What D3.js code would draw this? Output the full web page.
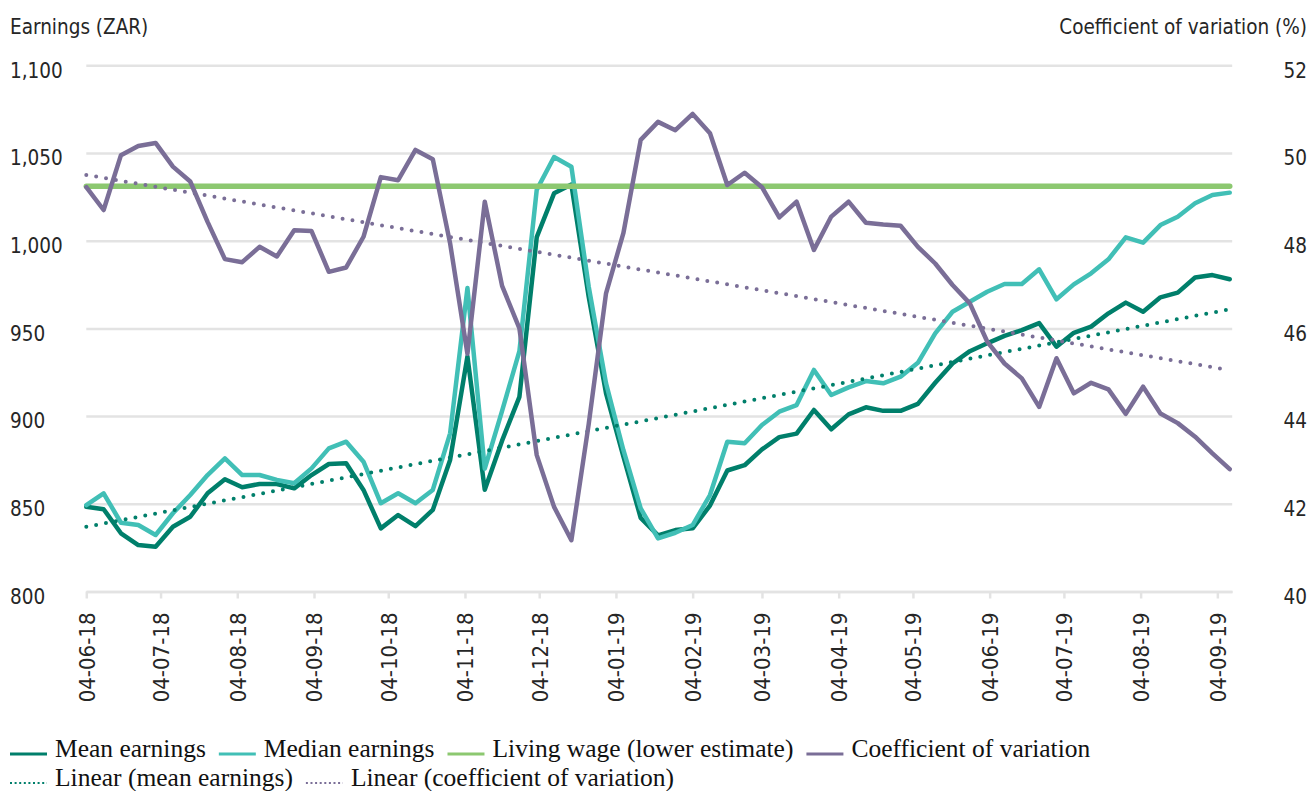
<!DOCTYPE html>
<html>
<head>
<meta charset="utf-8">
<script src="https://cdn.jsdelivr.net/npm/d3@7"></script>
<style>
  body { margin: 0; background: #fff; }
  svg { display: block; }
  .axis-text { font-family: "DejaVu Sans Condensed", "Liberation Sans Narrow", sans-serif; fill: #262626; }
  .legend text { font-family: "Liberation Serif", "DejaVu Serif", serif; font-size: 25.5px; fill: #111; }
</style>
</head>
<body>
<div id="chart"></div>
<script>
// weekly observation dates
const dates = [
  "2018-06-04","2018-06-11","2018-06-18","2018-06-25","2018-07-02","2018-07-09","2018-07-16","2018-07-23","2018-07-30",
  "2018-08-06","2018-08-13","2018-08-20","2018-08-27","2018-09-03","2018-09-10","2018-09-17","2018-09-24",
  "2018-10-01","2018-10-08","2018-10-15","2018-10-22","2018-10-29","2018-11-05","2018-11-12","2018-11-19","2018-11-26",
  "2018-12-03","2018-12-10","2018-12-17","2018-12-24","2018-12-31","2019-01-07","2019-01-14","2019-01-21","2019-01-28",
  "2019-02-04","2019-02-11","2019-02-18","2019-02-25","2019-03-04","2019-03-11","2019-03-18","2019-03-25",
  "2019-04-01","2019-04-08","2019-04-15","2019-04-22","2019-04-29","2019-05-06","2019-05-13","2019-05-20","2019-05-27",
  "2019-06-03","2019-06-10","2019-06-17","2019-06-24","2019-07-01","2019-07-08","2019-07-15","2019-07-22","2019-07-29",
  "2019-08-05","2019-08-12","2019-08-19","2019-08-26","2019-09-02","2019-09-09"
];

const meanEarnings = [
  848.3, 846.9, 833.2, 826.5, 825.5, 836.9, 842.6, 856.0, 864.0, 859.4, 861.3, 861.3, 858.8, 866.4, 872.7, 873.1,
  857.9, 836.0, 843.6, 837.3, 846.5, 875.0, 934.0, 858.0, 886.0, 911.0, 1002.0, 1027.0, 1032.0, 968.0, 913.0, 877.0,
  842.0, 832.0, 835.0, 836.0, 849.0, 869.0, 872.0, 881.0, 888.0, 890.0, 903.5, 892.5, 901.0, 905.0, 903.0, 903.0,
  907.0, 919.0, 930.0, 937.0, 941.5, 945.7, 949.0, 953.0, 939.6, 947.5, 951.0, 958.6, 964.7, 959.5, 967.7, 970.4,
  979.0, 980.4, 978.0
];

const medianEarnings = [
  849.3, 856.0, 839.2, 837.9, 832.2, 844.6, 855.0, 866.4, 875.9, 866.4, 866.4, 863.6, 861.7, 870.2, 881.6, 885.4,
  874.0, 850.3, 856.0, 850.3, 857.9, 890.2, 973.0, 870.0, 903.0, 937.0, 1029.0, 1047.7, 1042.2, 973.8, 918.7, 880.7,
  847.4, 830.3, 833.5, 837.9, 855.0, 885.4, 884.5, 894.9, 902.5, 906.3, 926.3, 912.0, 916.4, 920.0, 918.7, 922.5,
  930.4, 947.2, 959.5, 965.2, 970.9, 975.3, 975.3, 983.7, 966.6, 975.1, 981.4, 989.4, 1001.9, 998.9, 1008.9, 1013.7,
  1021.3, 1026.1, 1027.4
];

const livingWage = 1031;

const coefVariation = [
  49.22, 48.70, 49.95, 50.16, 50.23, 49.69, 49.35, 48.43, 47.58, 47.51, 47.86, 47.64, 48.24, 48.22, 47.29, 47.39,
  48.09, 49.45, 49.38, 50.07, 49.86, 47.94, 45.42, 48.89, 46.97, 46.00, 43.11, 41.93, 41.17, 43.82, 46.80, 48.17,
  50.30, 50.71, 50.52, 50.89, 50.45, 49.27, 49.55, 49.22, 48.53, 48.89, 47.79, 48.55, 48.89, 48.41, 48.37, 48.34,
  47.86, 47.48, 46.99, 46.57, 45.70, 45.20, 44.86, 44.21, 45.32, 44.52, 44.76, 44.61, 44.05, 44.67, 44.06, 43.84,
  43.53, 43.15, 42.79
];

// linear trendlines, values at first and last date
const meanTrend = [836.9, 960.9];
const cvTrend = [49.50, 45.05];

const xTickLabels = ["04-06-18","04-07-18","04-08-18","04-09-18","04-10-18","04-11-18","04-12-18","04-01-19",
  "04-02-19","04-03-19","04-04-19","04-05-19","04-06-19","04-07-19","04-08-19","04-09-19"];
const earningsTicks = [800, 850, 900, 950, 1000, 1050, 1100];
const cvTicks = [40, 42, 44, 46, 48, 50, 52];

const W = 1312, H = 791;
const plotLeft = 86.3, plotRight = 1232.2, plotTop = 65.3, plotBottom = 591.5;

const colors = {
  mean: "#007f6b",
  median: "#41bfb6",
  living: "#8cc870",
  cv: "#7a6e97",
  grid: "#e3e3e3"
};

const parseDay = d3.utcParse("%Y-%m-%d");
const parseTick = d3.utcParse("%d-%m-%y");
const days = dates.map(parseDay);

const x = d3.scaleUtc()
  .domain([days[0], parseDay("2019-09-10")])
  .range([plotLeft, plotRight]);
const yL = d3.scaleLinear().domain([800, 1100]).range([plotBottom, plotTop]);
const yR = d3.scaleLinear().domain([40, 52]).range([plotBottom, plotTop]);

const svg = d3.select("#chart").append("svg")
  .attr("width", W)
  .attr("height", H);

// gridlines + left labels
const gl = svg.append("g")
  .attr("transform", `translate(${plotLeft},0)`)
  .call(d3.axisLeft(yL).tickValues(earningsTicks).tickFormat(d3.format(",")).tickSize(-(plotRight - plotLeft)).tickPadding(0));
gl.select(".domain").remove();
gl.selectAll(".tick line").attr("stroke", colors.grid).attr("stroke-width", 2.5);
gl.selectAll(".tick text")
  .attr("class", "axis-text")
  .attr("x", 10 - plotLeft)
  .attr("dy", "0.58em")
  .attr("text-anchor", "start")
  .style("font-size", "20.5px");

// right labels
const gr = svg.append("g")
  .attr("transform", `translate(${plotRight},0)`)
  .call(d3.axisRight(yR).tickValues(cvTicks).tickSize(0));
gr.select(".domain").remove();
gr.selectAll(".tick text")
  .attr("class", "axis-text")
  .attr("x", 1307 - plotRight)
  .attr("dy", "0.58em")
  .attr("text-anchor", "end")
  .style("font-size", "20.5px");

// x axis
const gx = svg.append("g")
  .attr("transform", `translate(0,${plotBottom})`)
  .call(d3.axisBottom(x)
    .tickValues(xTickLabels.map(parseTick))
    .tickFormat(d3.utcFormat("%d-%m-%y"))
    .tickSize(7)
    .tickSizeOuter(0));
gx.select(".domain").attr("stroke", colors.grid).attr("stroke-width", 2.5);
gx.selectAll(".tick line").attr("stroke", colors.grid).attr("stroke-width", 2.5);
gx.selectAll(".tick text")
  .attr("class", "axis-text")
  .attr("transform", "rotate(-90)")
  .attr("x", -21)
  .attr("y", 0)
  .attr("dy", "0.36em")
  .attr("text-anchor", "end")
  .style("font-size", "22px");

// axis titles
svg.append("text").attr("class", "axis-text")
  .attr("x", 10).attr("y", 34)
  .style("font-size", "20.5px")
  .text("Earnings (ZAR)");
svg.append("text").attr("class", "axis-text")
  .attr("x", 1307).attr("y", 34)
  .attr("text-anchor", "end")
  .style("font-size", "20.5px")
  .text("Coefficient of variation (%)");

const lineL = d3.line().x((d, i) => x(days[i])).y(d => yL(d));
const lineR = d3.line().x((d, i) => x(days[i])).y(d => yR(d));
const ends = [days[0], days[days.length - 1]];

const plot = svg.append("g").attr("fill", "none").attr("stroke-linejoin", "round").attr("stroke-linecap", "round");

plot.append("path")
  .attr("d", lineL(meanEarnings))
  .attr("stroke", colors.mean)
  .attr("stroke-width", 4.5);

plot.append("path")
  .attr("d", lineL(medianEarnings))
  .attr("stroke", colors.median)
  .attr("stroke-width", 4.5);

plot.append("path")
  .attr("d", d3.line().x(d => x(d)).y(() => yL(livingWage))(days))
  .attr("stroke", colors.living)
  .attr("stroke-width", 5.5);

plot.append("path")
  .attr("d", d3.line().x((d, i) => x(ends[i])).y(d => yL(d))(meanTrend))
  .attr("stroke", colors.mean)
  .attr("stroke-width", 4)
  .attr("stroke-dasharray", "0 10");

plot.append("path")
  .attr("d", lineR(coefVariation))
  .attr("stroke", colors.cv)
  .attr("stroke-width", 4.5);

plot.append("path")
  .attr("d", d3.line().x((d, i) => x(ends[i])).y(d => yR(d))(cvTrend))
  .attr("stroke", colors.cv)
  .attr("stroke-width", 4)
  .attr("stroke-dasharray", "0 10");

// legend
const legendRows = [
  [
    { name: "Mean earnings", color: colors.mean, dotted: false },
    { name: "Median earnings", color: colors.median, dotted: false },
    { name: "Living wage (lower estimate)", color: colors.living, dotted: false },
    { name: "Coefficient of variation", color: colors.cv, dotted: false }
  ],
  [
    { name: "Linear (mean earnings)", color: colors.mean, dotted: true },
    { name: "Linear (coefficient of variation)", color: colors.cv, dotted: true }
  ]
];

const legend = svg.append("g").attr("class", "legend");
legendRows.forEach((row, r) => {
  const baseY = 757 + r * 29;
  let cx = 10;
  row.forEach(item => {
    const g = legend.append("g");
    g.append("line")
      .attr("x1", cx).attr("x2", cx + 37)
      .attr("y1", baseY - 3).attr("y2", baseY - 3)
      .attr("stroke", item.color)
      .attr("stroke-width", item.dotted ? 2.2 : 3)
      .attr("stroke-dasharray", item.dotted ? "2 2.6" : null);
    const t = g.append("text")
      .attr("x", cx + 45)
      .attr("y", baseY)
      .text(item.name);
    cx += 45 + t.node().getComputedTextLength() + 13;
  });
});
</script>
</body>
</html>
